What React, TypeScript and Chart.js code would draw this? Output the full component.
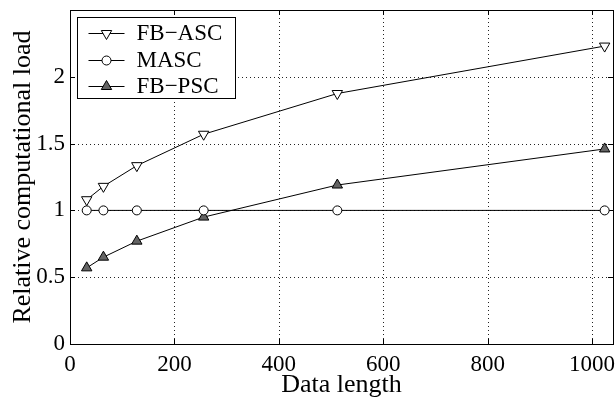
import React, { useEffect, useRef } from 'react';
import { Chart, registerables } from 'chart.js';

Chart.register(...registerables);

const dataLength = [32, 64, 128, 256, 512, 1024];
const fbAsc = [1.08, 1.18, 1.335, 1.57, 1.875, 2.23];
const masc = [1, 1, 1, 1, 1, 1];
const fbPsc = [0.57, 0.65, 0.77, 0.95, 1.19, 1.46];
const xTicks = [0, 200, 400, 600, 800, 1000];
const yTicks = [0, 0.5, 1, 1.5, 2];
const seriesNames = ['FB\u2212ASC', 'MASC', 'FB\u2212PSC'];
const xTitle = 'Data length';
const yTitle = 'Relative computational load';

const FONT = '"Liberation Serif", "Times New Roman", Times, "DejaVu Serif", serif';
const PSC_FILL = '#646464';

function drawMarker(ctx: CanvasRenderingContext2D, kind: number, x: number, y: number) {
  ctx.beginPath();
  if (kind === 1) {
    ctx.arc(x, y, 4.5, 0, Math.PI * 2);
    ctx.fillStyle = '#fff';
  } else {
    const r = 6;
    let rad = kind === 0 ? Math.PI : 0;
    ctx.moveTo(x + Math.sin(rad) * r, y - Math.cos(rad) * r);
    rad += (2 * Math.PI) / 3;
    ctx.lineTo(x + Math.sin(rad) * r, y - Math.cos(rad) * r);
    rad += (2 * Math.PI) / 3;
    ctx.lineTo(x + Math.sin(rad) * r, y - Math.cos(rad) * r);
    ctx.closePath();
    ctx.fillStyle = kind === 0 ? '#fff' : PSC_FILL;
  }
  ctx.fill();
  ctx.stroke();
}

const framePlugin = {
  id: 'frame',
  beforeDatasetsDraw(chart: any) {
    const { ctx, chartArea: a, scales } = chart;
    const x = scales.x;
    const y = scales.y;
    ctx.save();
    ctx.lineWidth = 1;
    ctx.strokeStyle = '#222';
    ctx.setLineDash([1, 3]);
    ctx.beginPath();
    for (const v of xTicks) {
      if (v === 0) continue;
      const px = Math.round(x.getPixelForValue(v)) + 0.5;
      ctx.moveTo(px, a.top);
      ctx.lineTo(px, a.bottom);
    }
    for (const v of yTicks) {
      if (v === 0) continue;
      const py = Math.round(y.getPixelForValue(v)) + 0.5;
      ctx.moveTo(a.left, py);
      ctx.lineTo(a.right, py);
    }
    ctx.stroke();
    ctx.setLineDash([]);
    ctx.strokeStyle = '#000';
    ctx.beginPath();
    const tl = 5;
    for (const v of xTicks) {
      const px = Math.round(x.getPixelForValue(v)) + 0.5;
      ctx.moveTo(px, a.bottom);
      ctx.lineTo(px, a.bottom - tl);
      ctx.moveTo(px, a.top);
      ctx.lineTo(px, a.top + tl);
    }
    for (const v of yTicks) {
      const py = Math.round(y.getPixelForValue(v)) + 0.5;
      ctx.moveTo(a.left, py);
      ctx.lineTo(a.left + tl, py);
      ctx.moveTo(a.right, py);
      ctx.lineTo(a.right - tl, py);
    }
    ctx.stroke();
    ctx.strokeRect(Math.round(a.left) + 0.5, Math.round(a.top) + 0.5, Math.round(a.right - a.left), Math.round(a.bottom - a.top));
    ctx.restore();
  },
  afterDraw(chart: any) {
    const { ctx, chartArea: a } = chart;
    ctx.save();
    const bx = Math.round(a.left) + 7.5;
    const by = Math.round(a.top) + 7.5;
    const bw = 158;
    const bh = 81;
    ctx.fillStyle = '#fff';
    ctx.fillRect(bx, by, bw, bh);
    ctx.strokeStyle = '#000';
    ctx.lineWidth = 1;
    ctx.strokeRect(bx, by, bw, bh);
    const rows = [33, 60, 86];
    ctx.font = `23px ${FONT}`;
    ctx.textBaseline = 'middle';
    ctx.textAlign = 'left';
    seriesNames.forEach((name, i) => {
      const ry = rows[i] + 0.5;
      ctx.beginPath();
      ctx.moveTo(bx + 11, ry);
      ctx.lineTo(bx + 47, ry);
      ctx.strokeStyle = '#000';
      ctx.stroke();
      drawMarker(ctx, i, bx + 29, ry);
      ctx.fillStyle = '#000';
      ctx.fillText(name, bx + 59, rows[i] + 1);
    });
    ctx.restore();
  },
};

const zeroPad = (s: any) => {
  s.paddingLeft = 0;
  s.paddingRight = 0;
  s.paddingTop = 0;
  s.paddingBottom = 0;
};

export default function App() {
  const ref = useRef<HTMLCanvasElement>(null);
  useEffect(() => {
    if (!ref.current) return;
    const mk = (label: string, values: number[], style: string, rot: number, fill: string, radius: number) => ({
      label,
      data: dataLength.map((d, i) => ({ x: d, y: values[i] })),
      borderColor: '#000',
      borderWidth: 1,
      pointStyle: style,
      rotation: rot,
      pointRadius: radius,
      pointBackgroundColor: fill,
      pointBorderColor: '#000',
      pointBorderWidth: 1,
      showLine: true,
      tension: 0,
      fill: false,
    });
    const chart = new Chart(ref.current, {
      type: 'scatter',
      data: {
        datasets: [
          mk(seriesNames[0], fbAsc, 'triangle', 180, '#fff', 6),
          mk(seriesNames[1], masc, 'circle', 0, '#fff', 4.5),
          mk(seriesNames[2], fbPsc, 'triangle', 0, PSC_FILL, 6),
        ],
      },
      plugins: [framePlugin],
      options: {
        animation: false,
        responsive: false,
        devicePixelRatio: 1,
        layout: { autoPadding: false, padding: { top: 10, right: 3, left: 0, bottom: 0 } },
        plugins: { legend: { display: false }, tooltip: { enabled: false } },
        scales: {
          x: {
            type: 'linear',
            min: 0,
            max: 1040,
            afterBuildTicks: (s: any) => {
              s.ticks = xTicks.map((v) => ({ value: v }));
            },
            afterFit: (s: any) => {
              s.height = 54;
              zeroPad(s);
            },
            grid: { display: false, drawTicks: false },
            border: { display: false },
            ticks: {
              color: '#000',
              font: { family: FONT, size: 23 },
              padding: 7,
              maxRotation: 0,
              autoSkip: false,
              callback: (v: any) => String(v),
            },
            title: {
              display: true,
              text: xTitle,
              color: '#000',
              font: { family: FONT, size: 26 },
              padding: { top: 0, bottom: -3 },
            },
          },
          y: {
            type: 'linear',
            min: 0,
            max: 2.5,
            afterBuildTicks: (s: any) => {
              s.ticks = yTicks.map((v) => ({ value: v }));
            },
            afterFit: (s: any) => {
              s.width = 70;
              zeroPad(s);
            },
            grid: { display: false, drawTicks: false },
            border: { display: false },
            ticks: {
              color: '#000',
              font: { family: FONT, size: 23 },
              padding: 5,
              autoSkip: false,
              callback: (v: any) => String(v),
            },
            title: {
              display: true,
              text: yTitle,
              color: '#000',
              font: { family: FONT, size: 26 },
              padding: { top: 8, bottom: 0 },
            },
          },
        },
      },
    } as any);
    return () => chart.destroy();
  }, []);
  return (
    <div style={{ position: 'absolute', left: 0, top: 0, width: 616, height: 398, background: '#fff' }}>
      <canvas ref={ref} width={616} height={398} style={{ width: 616, height: 398, display: 'block' }} />
    </div>
  );
}
